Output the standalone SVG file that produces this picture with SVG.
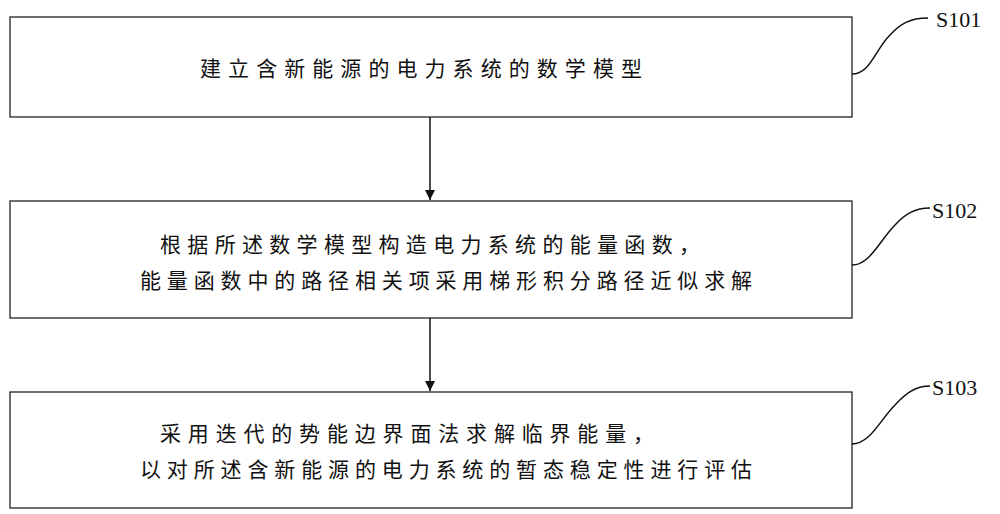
<svg xmlns="http://www.w3.org/2000/svg" width="1000" height="514" viewBox="0 0 1000 514">
<style>
.box{fill:#fff;stroke:#222;stroke-width:1.3}
.t{font-family:"Noto Sans CJK SC",sans-serif;font-size:21px;letter-spacing:6px;fill:#111}
.l{font-family:"Liberation Serif",serif;font-size:22px;fill:#111}
.c{fill:none;stroke:#111;stroke-width:1.5}
</style>
<defs><marker id="a" markerWidth="12" markerHeight="12" refX="10" refY="5" orient="auto" markerUnits="userSpaceOnUse"><path d="M0,0 L10,5 L0,10 Z" fill="#111"/></marker></defs>
<g id="n1"><rect class="box" x="10" y="17" width="842" height="100"/><text class="t" x="200" y="76" textLength="448">建立含新能源的电力系统的数学模型</text></g>
<g id="n2"><rect class="box" x="10" y="201" width="842" height="117"/><text class="t" x="160" y="252" textLength="546">根据所述数学模型构造电力系统的能量函数，</text><text class="t" x="140" y="288" textLength="618">能量函数中的路径相关项采用梯形积分路径近似求解</text></g>
<g id="n3"><rect class="box" x="10" y="392" width="842" height="116"/><text class="t" x="160" y="441" textLength="500">采用迭代的势能边界面法求解临界能量，</text><text class="t" x="140" y="477" textLength="618">以对所述含新能源的电力系统的暂态稳定性进行评估</text></g>
<g id="labels"><text class="l" x="936" y="27">S101</text><text class="l" x="932" y="218">S102</text><text class="l" x="932" y="395">S103</text></g>
<g id="connectors">
<line class="c" x1="430" y1="117" x2="430" y2="200" marker-end="url(#a)"/>
<line class="c" x1="430" y1="318" x2="430" y2="391" marker-end="url(#a)"/>
<path class="c" d="M852,74 C870,74 875,50 890,35 C900,24 910,18 928,18"/>
<path class="c" d="M852,265 C870,265 880,240 895,225 C905,214 915,208 930,208"/>
<path class="c" d="M852,444 C870,444 880,420 895,405 C905,394 915,386 930,386"/>
</g>
</svg>
